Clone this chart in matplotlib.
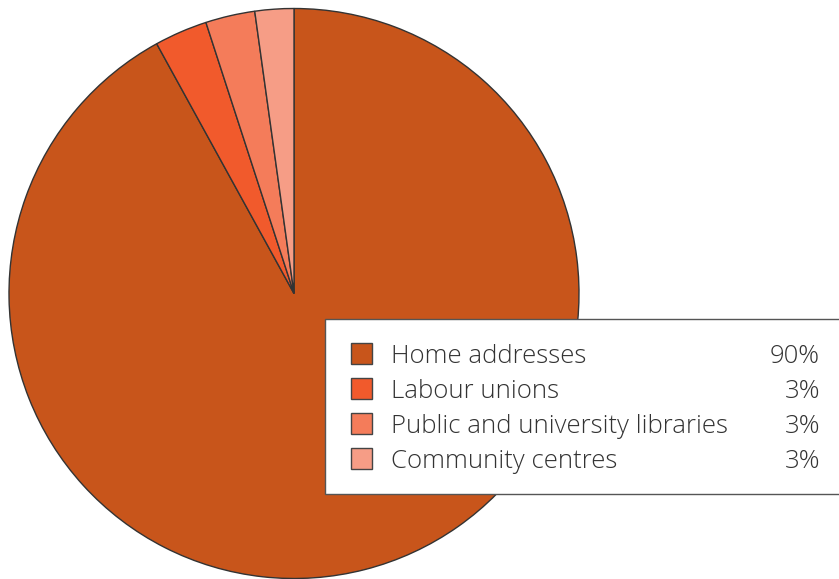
import matplotlib
matplotlib.use("Agg")
import matplotlib.pyplot as plt
from matplotlib.patches import Rectangle

# Data
categories = ["Home addresses", "Labour unions", "Public and university libraries", "Community centres"]
shares = [92.0, 3.0, 2.8, 2.2]          # slice sizes as drawn
share_labels = ["90%", "3%", "3%", "3%"]  # values printed in the legend
colors = ["#C8551B", "#F15A2C", "#F47C5A", "#F69D86"]

W, H = 839, 579
fig = plt.figure(figsize=(W / 100, H / 100), dpi=100)
ax = fig.add_axes([0, 0, 1, 1])

ax.pie(shares, colors=colors, startangle=90, counterclock=False,
       center=(294, H - 293.5), radius=285, frame=True,
       wedgeprops=dict(edgecolor="#333333", linewidth=1.0))
ax.set_xlim(0, W)
ax.set_ylim(0, H)
ax.axis("off")

# legend box (pixel coords measured from top)
ax.add_patch(Rectangle((325, H - 494), 530, 175, facecolor="white",
                       edgecolor="#555555", linewidth=1.0, zorder=5, clip_on=False))

row_y = [353.5, 388.5, 423.5, 458.5]
for cat, lab, col, y in zip(categories, share_labels, colors, row_y):
    ax.add_patch(Rectangle((351, H - y - 10.5), 21, 21, facecolor=col,
                           edgecolor="#444444", linewidth=1.0, zorder=6))
    ax.text(391, H - y - 9.5, cat, fontsize=18.5, family="Open Sans", weight="light",
            color="#333333", va="baseline", ha="left", zorder=6)
    ax.text(820, H - y - 9.5, lab, fontsize=18.5, family="Open Sans", weight="light",
            color="#333333", va="baseline", ha="right", zorder=6)

fig.savefig("out.png", dpi=100)
